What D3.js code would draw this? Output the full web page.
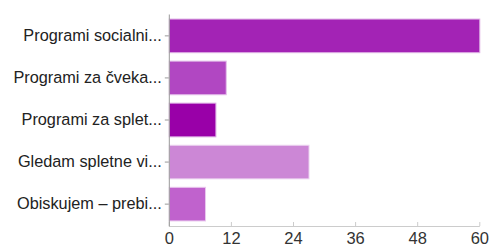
<!DOCTYPE html>
<html><head><meta charset="utf-8">
<script src="https://cdn.jsdelivr.net/npm/d3@7"></script>
<style>html,body{margin:0;padding:0;background:#fff;}svg{display:block;}</style>
</head><body>
<script>
const categories = ["Programi socialni...", "Programi za čveka...", "Programi za splet...", "Gledam spletne vi...", "Obiskujem – prebi..."];
const values = [60, 11, 9, 27, 7];
const colors = ["#a323b5", "#b147c2", "#9900a8", "#cc87d6", "#c062cd"];
const tickValues = [0, 12, 24, 36, 48, 60];

const W = 491, H = 249;
const svg = d3.select("body").append("svg").attr("width", W).attr("height", H);

const x = d3.scaleLinear().domain([0, 60]).range([168.8, 479.3]);
const y = d3.scaleBand().domain(categories).range([14, 226]).paddingInner(0.2).paddingOuter(0.12);

// bars
svg.append("g").selectAll("rect").data(values).join("rect")
  .attr("x", x(0) + 0.5)
  .attr("y", (d, i) => y(categories[i]))
  .attr("width", d => x(d) - x(0))
  .attr("height", y.bandwidth())
  .attr("fill", (d, i) => colors[i])
  .attr("stroke", (d, i) => d3.interpolateRgb(colors[i], "#ffffff")(0.65))
  .attr("stroke-width", 1);

// bottom axis
const xAxis = d3.axisBottom(x).tickValues(tickValues).tickSizeInner(-4).tickSizeOuter(0).tickPadding(10);
const gx = svg.append("g").attr("transform", "translate(0,226)").call(xAxis);
gx.select(".domain").attr("stroke", "#cccccc");
gx.selectAll(".tick line").attr("stroke", "#cccccc");
gx.selectAll(".tick text").attr("fill", "#333").attr("font-family", "'Liberation Sans', Arial, sans-serif").attr("font-size", 16.5).attr("dy", "0.75em").attr("y", 6);

// left axis
const yAxis = d3.axisLeft(y).tickSizeInner(4).tickSizeOuter(0).tickPadding(3);
const gy = svg.append("g").attr("transform", "translate(168.8,0)").call(yAxis);
gy.select(".domain").attr("stroke", "#999999");
gy.selectAll(".tick line").attr("stroke", "#999999");
gy.selectAll(".tick text").attr("fill", "#222").attr("font-family", "'Liberation Sans', Arial, sans-serif").attr("font-size", 16.3);
</script>
</body></html>
